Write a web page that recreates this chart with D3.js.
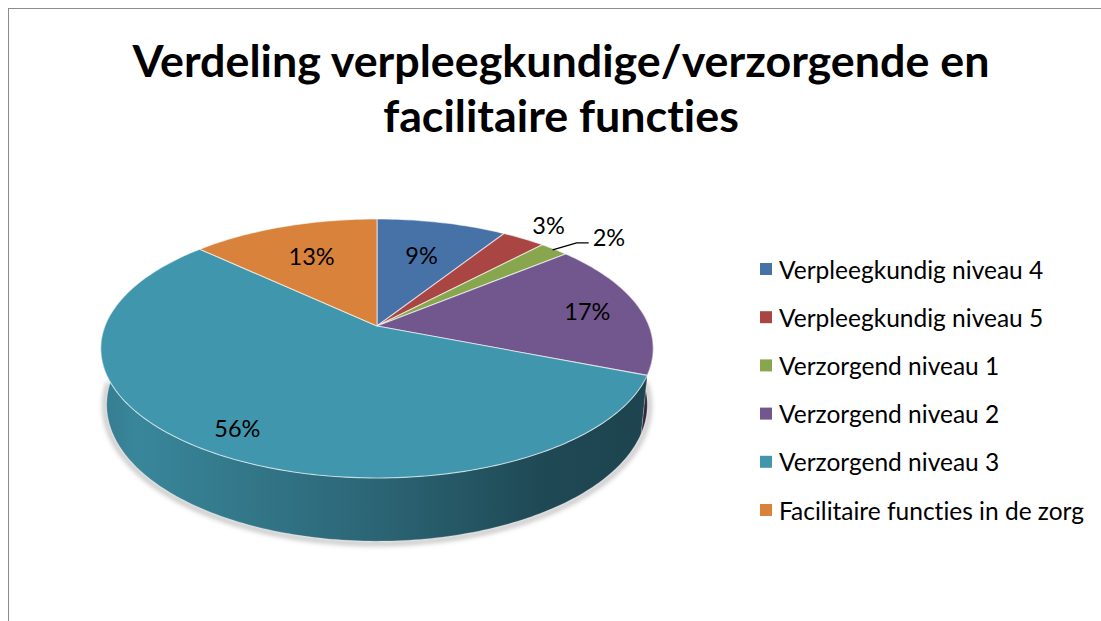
<!DOCTYPE html>
<html>
<head>
<meta charset="utf-8">
<script src="https://cdn.jsdelivr.net/npm/d3@7"></script>
<style>
  html, body { margin: 0; padding: 0; background: #fff; overflow: hidden; }
  svg { display: block; }
  text { font-variant-ligatures: none; }
</style>
</head>
<body>
<div id="chart"></div>
<script>
// Chart data
const categories = [
    "Verpleegkundig niveau 4",
    "Verpleegkundig niveau 5",
    "Verzorgend niveau 1",
    "Verzorgend niveau 2",
    "Verzorgend niveau 3",
    "Facilitaire functies in de zorg"
];
const values = [9, 3, 2, 17, 56, 13];
const labels = ["9%", "3%", "2%", "17%", "56%", "13%"];
const colors = ["#4672a8", "#a94542", "#88a64e", "#71578e", "#4096ad", "#d9823b"];
const titleLines = ["Verdeling verpleegkundige/verzorgende en", "facilitaire functies"];

// how far out (fraction of radius) each inside label sits, like Excel's best fit
const labelRadius = [0.65, 1, 1, 0.8, 0.84, 0.67];

const width = 1101;
const height = 621;

const svg = d3.select("#chart").append("svg")
    .attr("width", width)
    .attr("height", height);

// outer frame (right/bottom edges fall outside the window)
svg.append("rect")
    .attr("x", 8.5).attr("y", 8.5)
    .attr("width", 1200).attr("height", 700)
    .attr("fill", "#fff")
    .attr("stroke", "#8c8c8c")
    .attr("stroke-width", 1);

// Title
svg.append("g").selectAll("text")
    .data(titleLines)
    .join("text")
    .attr("x", 561)
    .attr("y", (d, i) => 77 + i * 55)
    .attr("text-anchor", "middle")
    .attr("font-family", "Lato, 'Open Sans', sans-serif")
    .attr("font-weight", "bold")
    .attr("font-size", "44.8px")
    .attr("fill", "#000")
    .text(d => d);

/**
 * 3D pie projection: disk of radius R, tilted by elevation, seen with perspective
 */
const cx = 377, cy = 326;
const R = 272;
const depth = 64;
const elev = 27.5 * Math.PI / 180;
const camDist = 1390;
const sinE = Math.sin(elev), cosE = Math.cos(elev);

function project(theta, r, yWorld) {
    const X = r * Math.sin(theta);
    const Z = -r * Math.cos(theta);
    const yc = yWorld * cosE - Z * sinE;
    const zc = Z * cosE + yWorld * sinE;
    const k = camDist / (camDist - zc);
    return [cx + X * k, cy - yc * k];
}

function arcPoints(a0, a1, r, yWorld) {
    const n = Math.max(2, Math.ceil(Math.abs(a1 - a0) / (Math.PI / 180)));
    return d3.range(n + 1).map(i => project(a0 + (a1 - a0) * i / n, r, yWorld));
}

const pie = d3.pie().sort(null).value(d => d);
const arcs = pie(values);
const line = d3.line();

const defs = svg.append("defs");

// shading for the visible side walls
function sideGradient(id, stops) {
    const g = defs.append("linearGradient")
        .attr("id", id)
        .attr("gradientUnits", "userSpaceOnUse")
        .attr("x1", cx - R).attr("x2", cx + R)
        .attr("y1", 0).attr("y2", 0);
    stops.forEach(s => g.append("stop").attr("offset", s[0]).attr("stop-color", s[1]));
}
const sideFills = colors.map((c, i) => {
    const base = d3.color(c);
    const id = "side-" + i;
    sideGradient(id, [
        [0, base.darker(0.5)],
        [0.06, base.darker(0.32)],
        [0.5, base.darker(1.1)],
        [0.8, base.darker(2.0)],
        [1, base.darker(2.2)]
    ]);
    return `url(#${id})`;
});

const pieG = svg.append("g");

// soft shadow under the pie
defs.append("filter").attr("id", "blur")
    .attr("x", "-10%").attr("y", "-10%").attr("width", "120%").attr("height", "120%")
    .append("feGaussianBlur").attr("stdDeviation", 2.5);

pieG.append("path")
    .attr("d", line(arcPoints(Math.PI / 2, 3 * Math.PI / 2, R + 2, -depth - 1)))
    .attr("fill", "none")
    .attr("stroke", "#b8b8b8")
    .attr("stroke-width", 4)
    .attr("filter", "url(#blur)");

// front walls (only the half facing the viewer is visible)
const frontStart = Math.PI / 2 - 0.1, frontEnd = 3 * Math.PI / 2 + 0.1;
arcs.forEach((d, i) => {
    const a0 = Math.max(d.startAngle, frontStart);
    const a1 = Math.min(d.endAngle, frontEnd);
    if (a1 <= a0) return;
    const top = arcPoints(a0, a1, R, 0);
    const bottom = arcPoints(a1, a0, R, -depth);
    pieG.append("path")
        .attr("d", line(top.concat(bottom)) + "Z")
        .attr("fill", sideFills[i])
        .attr("stroke", "#ffffff")
        .attr("stroke-opacity", 0.25)
        .attr("stroke-width", 0.8);
});

// top faces
arcs.forEach((d, i) => {
    const pts = [project(0, 0, 0)].concat(arcPoints(d.startAngle, d.endAngle, R, 0));
    pieG.append("path")
        .attr("d", line(pts) + "Z")
        .attr("fill", colors[i])
        .attr("stroke", "#ffffff")
        .attr("stroke-opacity", 0.6)
        .attr("stroke-width", 1.1)
        .attr("stroke-linejoin", "round");
});

// data labels
const labelFont = "Lato, 'Open Sans', sans-serif";
const labelG = svg.append("g")
    .attr("font-family", labelFont)
    .attr("font-size", "23.5px")
    .attr("fill", "#000");

arcs.forEach((d, i) => {
    const mid = (d.startAngle + d.endAngle) / 2;
    if (values[i] >= 5) {
        const p = project(mid, R * labelRadius[i], 0);
        labelG.append("text")
            .attr("x", p[0]).attr("y", p[1])
            .attr("text-anchor", "middle")
            .attr("dominant-baseline", "central")
            .text(labels[i]);
    } else if (i === 1) {
        const p = project(mid, R, 0);
        labelG.append("text")
            .attr("x", p[0] + 25).attr("y", p[1] - 14)
            .attr("text-anchor", "middle")
            .attr("dominant-baseline", "central")
            .text(labels[i]);
    } else {
        // leader line for the smallest slice
        const p = project(mid, R * 0.99, 0);
        const elbow = [p[0] + 24, p[1] - 7];
        const end = [elbow[0] + 12, elbow[1]];
        labelG.append("path")
            .attr("d", line([p, elbow, end]))
            .attr("fill", "none")
            .attr("stroke", "#000")
            .attr("stroke-width", 1.4);
        labelG.append("text")
            .attr("x", end[0] + 4).attr("y", end[1] - 6)
            .attr("dominant-baseline", "central")
            .text(labels[i]);
    }
});

// Legend
const legendY = d3.scaleLinear().domain([0, categories.length - 1]).range([269, 510]);
const legend = svg.append("g")
    .attr("font-family", labelFont)
    .attr("font-size", "24.5px");

const items = legend.selectAll("g")
    .data(categories)
    .join("g")
    .attr("transform", (d, i) => `translate(760, ${legendY(i)})`);

items.append("rect")
    .attr("x", 0).attr("y", -6)
    .attr("width", 12).attr("height", 12)
    .attr("fill", (d, i) => colors[i]);

items.append("text")
    .attr("x", 19).attr("y", 0)
    .attr("dominant-baseline", "central")
    .attr("fill", "#000")
    .text(d => d);
</script>
</body>
</html>
